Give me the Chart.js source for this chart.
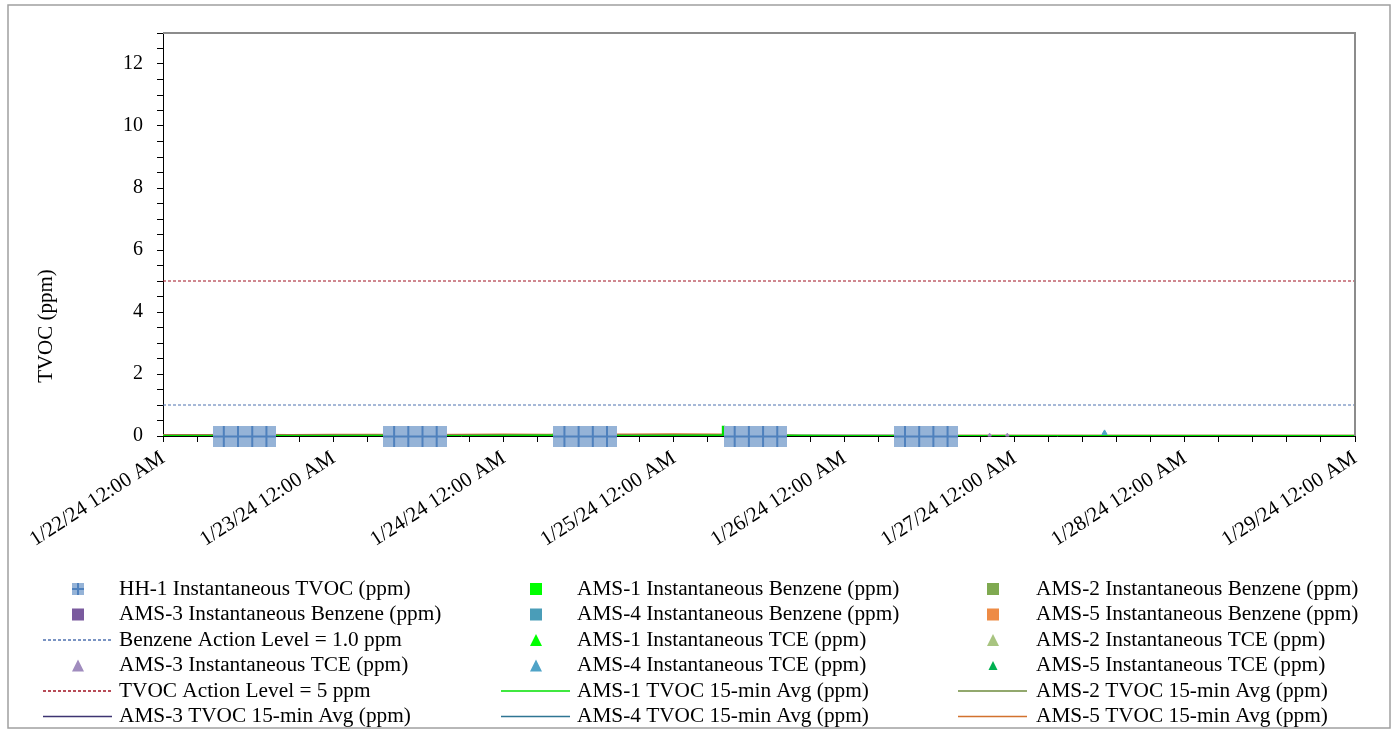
<!DOCTYPE html>
<html>
<head>
<meta charset="utf-8">
<script src="https://cdn.jsdelivr.net/npm/chart.js@4.4.1/dist/chart.umd.min.js"></script>
<style>
  html, body { margin: 0; padding: 0; background: #fff; }
  #wrap { width: 1396px; height: 730px; }
</style>
</head>
<body>
<div id="wrap"><canvas id="myChart" width="1396" height="730"></canvas></div>
<script>
// tick labels (x axis is hours since 1/22/24 12:00 AM)
var xTickLabels = ["1/22/24 12:00 AM", "1/23/24 12:00 AM", "1/24/24 12:00 AM", "1/25/24 12:00 AM",
  "1/26/24 12:00 AM", "1/27/24 12:00 AM", "1/28/24 12:00 AM", "1/29/24 12:00 AM"];
var yTickLabels = ["0", "2", "4", "6", "8", "10", "12"];

// HH-1 handheld readings
var hh1Hours = [8.5, 10.5, 12.5, 14.5, 32.5, 34.5, 36.5, 38.5, 56.5, 58.5, 60.5, 62.5,
  80.5, 82.5, 84.5, 86.5, 104.5, 106.5, 108.5, 110.5];
var hh1Tvoc = [0, 0, 0, 0, 0, 0, 0, 0, 0, 0, 0, 0, 0, 0, 0, 0, 0, 0, 0, 0];

// instantaneous benzene / TCE
var ams1BenzHours = [55.2, 81.6];
var ams1Benz = [0.04, 0.05];
var ams3TceHours = [116.5, 119];
var ams3Tce = [0.03, 0.03];
var ams4TceHours = [132.7];
var ams4Tce = [0.1];

// action levels
var benzeneAction = 1.0;
var tvocAction = 5;

// 15-min averages (sampled every 6 h)
var avgHours = [0, 6, 12, 18, 24, 30, 36, 42, 48, 54, 60, 66, 72, 78, 84, 90, 96, 102, 108,
  114, 120, 126, 132, 138, 144, 150, 156, 162, 168];
var ams1Hours = [0, 6, 12, 18, 24, 30, 36, 42, 48, 54, 60, 66, 72, 78, 78.8, 78.9, 79.1, 79.2, 84, 90, 96, 102,
  108, 114, 120, 126, 132, 138, 144, 150, 156, 162, 168];
var ams1Avg = [0, 0, 0.01, 0, 0, 0.01, 0, 0, 0.01, 0.02, 0.01, 0, 0.01, 0.02, 0.02, 0.3, 0.3, 0.03, 0.02,
  0.01, 0, 0, 0, 0, 0, 0, 0, 0, 0, 0, 0, 0, 0];
var ams2Avg = [0.01, 0.01, 0.01, 0.01, 0.02, 0.01, 0.01, 0.01, 0.02, 0.01, 0.01, 0.02, 0.02,
  0.01, 0.01, 0.01, 0.01, 0.01, 0.01, 0.01, 0.01, 0.01, 0.01, 0.01, 0.01, 0.01, 0.01, 0.01, 0.01];
var ams3Avg = [0, 0, 0, 0, 0, 0, 0, 0, 0, 0, 0, 0, 0, 0, 0, 0, 0, 0, 0, 0, 0, 0, 0, 0, 0, 0, 0, 0, 0];
var ams4Avg = [0.01, 0.01, 0.01, 0.01, 0.01, 0.01, 0.01, 0.01, 0.01, 0.01, 0.01, 0.01, 0.01,
  0.01, 0.01, 0.01, 0.01, 0.01, 0, 0, 0, 0, 0, 0, 0, 0, 0, 0, 0];
var ams5Avg = [0.03, 0.03, 0.04, 0.03, 0.04, 0.04, 0.03, 0.04, 0.05, 0.04, 0.05, 0.05, 0.06,
  0.05, 0.04, 0.01, 0.01, 0.01, 0.01, 0.01, 0.01, 0.01, 0.01, 0.01, 0.01, 0.01, 0.01, 0.01, 0.01];

var FONT = "'Liberation Serif', 'Times New Roman', serif";

function pts(hours, values) {
  return hours.map(function (h, i) { return { x: h, y: values[i] }; });
}

// square-with-plus marker for HH-1
function hhMarker(size, plusW) {
  var c = document.createElement("canvas");
  c.width = size; c.height = size;
  var g = c.getContext("2d");
  g.fillStyle = "#95B3D7";
  g.fillRect(0, 0, size, size);
  g.fillStyle = "#4F81BD";
  g.fillRect(Math.round(size / 2 - plusW / 2), 0, plusW, size);
  g.fillRect(0, Math.round(size / 2 - plusW / 2), size, plusW);
  return c;
}

function markerSet(label, hours, values, color, style, radius, legendType, legendSize) {
  return {
    label: label, data: pts(hours, values), showLine: false, clip: false,
    pointStyle: style, pointRadius: radius, pointBackgroundColor: color, pointBorderColor: color,
    borderColor: color, backgroundColor: color,
    legendType: legendType, legendSize: legendSize
  };
}
function lineSet(label, hours, values, color, dash) {
  return {
    label: label, data: pts(hours, values), showLine: true, pointRadius: 0,
    borderColor: color, backgroundColor: color, borderWidth: dash ? 1 : 2, borderDash: dash || [],
    legendType: dash ? "dash" : "line"
  };
}

var datasets = [
  { label: "HH-1 Instantaneous TVOC (ppm)", data: pts(hh1Hours, hh1Tvoc), showLine: false, clip: false,
    pointStyle: hhMarker(21, 2), pointRadius: 10, borderColor: "#4F81BD", backgroundColor: "#95B3D7",
    legendType: "hh" },
  markerSet("AMS-1 Instantaneous Benzene (ppm)", ams1BenzHours, ams1Benz, "#00FF00", "rect", 2, "square", 12),
  markerSet("AMS-2 Instantaneous Benzene (ppm)", [], [], "#7FA950", "rect", 3, "square", 12),
  markerSet("AMS-3 Instantaneous Benzene (ppm)", [], [], "#7A5A9E", "rect", 3, "square", 12),
  markerSet("AMS-4 Instantaneous Benzene (ppm)", [], [], "#4A9DB8", "rect", 3, "square", 12),
  markerSet("AMS-5 Instantaneous Benzene (ppm)", [], [], "#EE8B45", "rect", 3, "square", 12),
  lineSet("Benzene Action Level = 1.0 ppm", [0, 168], [benzeneAction, benzeneAction], "#4F72B0", [3, 2]),
  markerSet("AMS-1 Instantaneous TCE (ppm)", [], [], "#00FF00", "triangle", 4, "triangle", 12),
  markerSet("AMS-2 Instantaneous TCE (ppm)", [], [], "#A8C480", "triangle", 4, "triangle", 12),
  markerSet("AMS-3 Instantaneous TCE (ppm)", ams3TceHours, ams3Tce, "#A08CBE", "triangle", 2, "triangle", 12),
  markerSet("AMS-4 Instantaneous TCE (ppm)", ams4TceHours, ams4Tce, "#4FA3C7", "triangle", 3, "triangle", 12),
  markerSet("AMS-5 Instantaneous TCE (ppm)", [], [], "#00B050", "triangle", 3, "triangle", 9),
  lineSet("TVOC Action Level = 5 ppm", [0, 168], [tvocAction, tvocAction], "#A01020", [3, 2]),
  lineSet("AMS-1 TVOC 15-min Avg (ppm)", ams1Hours, ams1Avg, "#00E000"),
  lineSet("AMS-2 TVOC 15-min Avg (ppm)", avgHours, ams2Avg, "#6E8B3D"),
  lineSet("AMS-3 TVOC 15-min Avg (ppm)", avgHours, ams3Avg, "#3D3472"),
  lineSet("AMS-4 TVOC 15-min Avg (ppm)", avgHours, ams4Avg, "#2F7593"),
  lineSet("AMS-5 TVOC 15-min Avg (ppm)", avgHours, ams5Avg, "#D2722E")
];

// 3 column legend under the plot
var gridLegend = {
  id: "gridLegend",
  afterDraw: function (chart) {
    var ctx = chart.ctx;
    var markX = [78, 536, 993];
    var textX = [119, 577, 1036];
    var rowY = 589, rowH = 25.5;
    ctx.save();
    ctx.font = "21.3px " + FONT;
    ctx.textBaseline = "middle";
    ctx.textAlign = "left";
    chart.data.datasets.forEach(function (ds, i) {
      var col = i % 3, row = Math.floor(i / 3);
      var cx = markX[col], cy = rowY + row * rowH;
      ctx.fillStyle = ds.backgroundColor;
      ctx.strokeStyle = ds.borderColor;
      if (ds.legendType == "hh") {
        ctx.drawImage(hhMarker(12, 2), cx - 6, cy - 6);
      } else if (ds.legendType == "square") {
        var s = ds.legendSize;
        ctx.fillRect(cx - s / 2, cy - s / 2, s, s);
      } else if (ds.legendType == "triangle") {
        var t = ds.legendSize;
        ctx.beginPath();
        ctx.moveTo(cx, cy - t / 2);
        ctx.lineTo(cx + t / 2, cy + t / 2);
        ctx.lineTo(cx - t / 2, cy + t / 2);
        ctx.closePath();
        ctx.fill();
      } else {
        ctx.lineWidth = 1.5;
        ctx.setLineDash(ds.legendType == "dash" ? [3, 2] : []);
        ctx.beginPath();
        ctx.moveTo(cx - 35, cy);
        ctx.lineTo(cx + 34, cy);
        ctx.stroke();
        ctx.setLineDash([]);
      }
      ctx.fillStyle = "#000";
      ctx.fillText(ds.label, textX[col], cy);
    });
    ctx.restore();
  }
};

// outer border, plot frame (top/right) and y axis title
var frame = {
  id: "frame",
  beforeDraw: function (chart) {
    var ctx = chart.ctx;
    ctx.save();
    ctx.fillStyle = "#fff";
    ctx.fillRect(0, 0, chart.width, chart.height);
    ctx.restore();
  },
  afterDraw: function (chart) {
    var ctx = chart.ctx, a = chart.chartArea;
    ctx.save();
    ctx.strokeStyle = "#8C8C8C";
    ctx.lineWidth = 2;
    ctx.beginPath();
    ctx.moveTo(a.left, a.top);
    ctx.lineTo(a.right, a.top);
    ctx.lineTo(a.right, a.bottom);
    ctx.stroke();
    ctx.strokeStyle = "#A0A0A0";
    ctx.lineWidth = 1.5;
    ctx.strokeRect(8, 5, 1382, 723);
    ctx.fillStyle = "#000";
    ctx.font = "21px " + FONT;
    ctx.textAlign = "center";
    ctx.textBaseline = "middle";
    ctx.translate(46, 326);
    ctx.rotate(-Math.PI / 2);
    ctx.fillText("TVOC (ppm)", 0, 0);
    ctx.restore();
  }
};

var ctx = document.getElementById("myChart").getContext("2d");
var myChart = new Chart(ctx, {
  type: "line",
  data: { datasets: datasets },
  options: {
    responsive: false,
    animation: false,
    devicePixelRatio: 1,
    layout: { padding: { top: 33, right: 41, left: 0, bottom: 0 } },
    plugins: { legend: { display: false }, tooltip: { enabled: false } },
    scales: {
      x: {
        type: "linear", min: 0, max: 168,
        afterFit: function (scale) { scale.height = 294; },
        grid: { drawOnChartArea: false, tickLength: 6, color: "#000", tickColor: "#000" },
        border: { color: "#000", width: 1 },
        ticks: {
          stepSize: 4.8, autoSkip: false, minRotation: 33, maxRotation: 33, padding: 4,
          color: "#000", font: { family: FONT, size: 21 },
          callback: function (v) {
            return (Math.abs(v % 24) < 1e-6) ? xTickLabels[Math.round(v / 24)] : "";
          }
        }
      },
      y: {
        type: "linear", min: 0, max: 13,
        afterFit: function (scale) { scale.width = 163; },
        grid: { drawOnChartArea: false, tickLength: 6, color: "#000", tickColor: "#000" },
        border: { color: "#000", width: 1 },
        ticks: {
          stepSize: 0.5, autoSkip: false, padding: 14,
          color: "#000", font: { family: FONT, size: 20 },
          callback: function (v) {
            return (v % 2 === 0 && v <= 12) ? yTickLabels[v / 2] : "";
          }
        }
      }
    }
  },
  plugins: [frame, gridLegend]
});
</script>
</body>
</html>
